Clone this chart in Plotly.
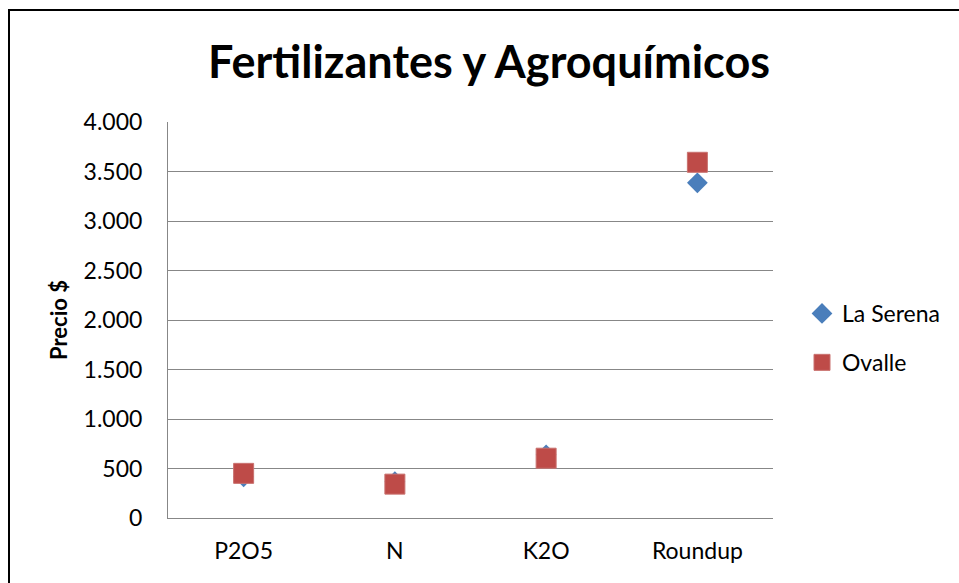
import plotly.graph_objects as go

categories = ["P2O5", "N", "K2O", "Roundup"]
la_serena = [416, 366, 638, 3386]
ovalle = [451, 342, 604, 3593]
y_ticks = [0, 500, 1000, 1500, 2000, 2500, 3000, 3500, 4000]

FONT = "Lato"
GRID = "#878787"

fig = go.Figure()
fig.add_trace(go.Scatter(
    x=categories, y=la_serena, mode="markers", name="La Serena",
    legendgroup="a",
    marker=dict(symbol="diamond", size=16, color="#4A7EBB",
                line=dict(width=0)),
))
fig.add_trace(go.Scatter(
    x=categories, y=ovalle, mode="markers", name="Ovalle",
    legendgroup="b",
    marker=dict(symbol="square", size=20, color="#BE4B48",
                line=dict(width=1, color="#C9716E")),
))

# body margin is removed, so page pixels == figure pixels
OFF = 0
W, H = 959, 583
PL, PR, PT, PB = 168, 773, 122, 518
L = PL - OFF
R = W - (PR - OFF)
T = PT - OFF
B = H - (PB - OFF)


def px_x(x):
    return (x - PL) / (PR - PL)


def px_y(y):
    return (PB - y) / (PB - PT)


border = dict(color="black", width=2)

fig.update_layout(
    width=W, height=H,
    margin=dict(l=L, r=R, t=T, b=B, autoexpand=False),
    paper_bgcolor="white", plot_bgcolor="white",
    separators=",.",
    font=dict(family=FONT, size=23, color="#000000"),
    title=dict(text="<b>Fertilizantes y Agroquímicos</b>",
               font=dict(family=FONT, size=45, color="#000000"),
               x=px_x(489), xref="paper", xanchor="center",
               y=1 - (62 - OFF) / H, yref="container", yanchor="middle"),
    showlegend=True,
    legend=dict(x=px_x(802), y=px_y(292), xanchor="left", yanchor="top",
                traceorder="grouped", tracegroupgap=16,
                font=dict(family=FONT, size=23),
                bgcolor="rgba(0,0,0,0)", itemwidth=30),
    xaxis=dict(showgrid=False, showline=True, linecolor=GRID, linewidth=1,
               ticks="", tickfont=dict(size=23), ticklabelstandoff=12,
               range=[-0.5, 3.5], zeroline=False, fixedrange=True),
    yaxis=dict(range=[0, 4000], tickvals=y_ticks, tickformat=",d",
               showgrid=True, gridcolor=GRID, gridwidth=1,
               showline=True, linecolor=GRID, linewidth=1,
               ticks="", tickfont=dict(size=23), ticklabelstandoff=20,
               zeroline=False,
               title=dict(text="<b>Precio $</b>", font=dict(size=22), standoff=9)),
    shapes=[
        dict(type="line", xref="paper", yref="paper",
             x0=px_x(9), x1=px_x(9), y0=px_y(9), y1=px_y(700), line=border),
        dict(type="line", xref="paper", yref="paper",
             x0=px_x(8), x1=px_x(1000), y0=px_y(10), y1=px_y(10), line=border),
    ],
)

fig.write_html(
    "out.html",
    config={"displayModeBar": False},
    post_script="document.body.style.margin='0';document.body.style.overflow='hidden';",
)
